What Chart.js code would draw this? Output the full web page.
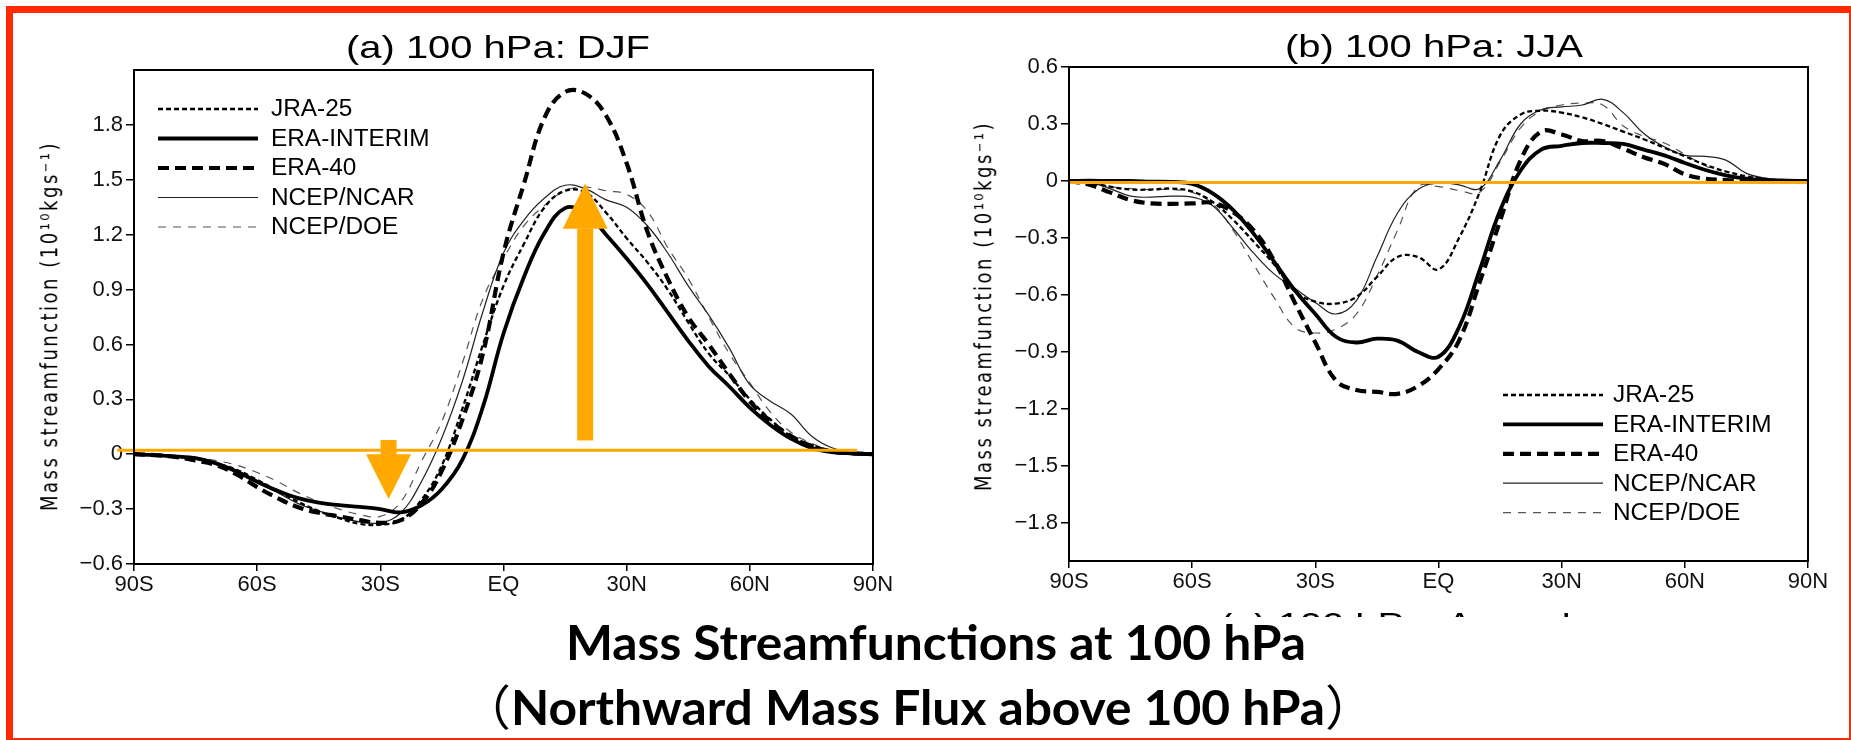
<!DOCTYPE html>
<html><head><meta charset="utf-8">
<script src="https://cdn.jsdelivr.net/npm/chart.js@4.4.1/dist/chart.umd.min.js"></script>
<style>
html,body{margin:0;padding:0;background:#fff;}
body{width:1851px;height:740px;position:relative;overflow:hidden;}
#frame{position:absolute;left:6px;top:6px;width:1850px;height:739px;border:7px solid #ff2a00;box-sizing:border-box;z-index:5;}
canvas{position:absolute;top:0;}
.txt{position:absolute;left:0;top:0;white-space:nowrap;line-height:1;color:#000;transform-origin:0 0;}
.ptitle{font-family:"Liberation Sans",Arial,sans-serif;font-size:32px;}
.ytitle{font-family:"DejaVu Sans",sans-serif;font-size:18px;}
.main{font-family:Lato,"Open Sans",sans-serif;font-weight:700;font-size:48px;}
.paren{font-family:"Noto Sans CJK JP",sans-serif;font-weight:400;}
#clipc{position:absolute;left:0;top:613px;width:1851px;height:4px;overflow:hidden;}
</style></head>
<body>
<canvas id="c1" width="925" height="620" style="left:0"></canvas>
<canvas id="c2" width="926" height="620" style="left:925px"></canvas>
<div id="t1" class="txt ptitle">(a) 100 hPa: DJF</div>
<div id="t2" class="txt ptitle">(b) 100 hPa: JJA</div>
<div id="clipc"><div id="t3" class="txt ptitle">(c) 100 hPa: Annual mean</div></div>
<div id="y1" class="txt ytitle">Mass streamfunction (10¹⁰kgs⁻¹)</div>
<div id="y2" class="txt ytitle">Mass streamfunction (10¹⁰kgs⁻¹)</div>
<div id="m1" class="txt main">Mass Streamfunctions at 100 hPa</div>
<div id="m2" class="txt main"><span class="paren">（</span>Northward Mass Flux above 100 hPa<span class="paren">）</span></div>
<div id="frame"></div>
<script>
// ---- data ----
const LAT = [-90,-85,-80,-75,-70,-65,-60,-55,-50,-45,-40,-35,-30,-25,-20,-15,-10,-5,0,5,10,15,20,25,30,35,40,45,50,55,60,65,70,75,80,85,90];
const X_TICKS = [-90,-60,-30,0,30,60,90];
const X_LABELS = ['90S','60S','30S','EQ','30N','60N','90N'];
const Y_TICKS_DJF = [-0.6,-0.3,0,0.3,0.6,0.9,1.2,1.5,1.8];
const Y_TICKS_JJA = [-1.8,-1.5,-1.2,-0.9,-0.6,-0.3,0,0.3,0.6];
const SERIES = ['JRA-25','ERA-INTERIM','ERA-40','NCEP/NCAR','NCEP/DOE'];

// DJF (panel a)
const JRA25_DJF   = [0,-0.003,-0.01,-0.025,-0.05,-0.085,-0.14,-0.20,-0.26,-0.31,-0.35,-0.38,-0.385,-0.36,-0.25,-0.06,0.25,0.60,0.92,1.15,1.35,1.44,1.43,1.32,1.18,1.05,0.90,0.72,0.55,0.43,0.30,0.19,0.10,0.05,0.02,0.005,0];
const ERAINT_DJF  = [0,-0.005,-0.012,-0.022,-0.05,-0.095,-0.15,-0.20,-0.24,-0.265,-0.278,-0.288,-0.30,-0.318,-0.28,-0.19,-0.03,0.26,0.66,0.97,1.21,1.345,1.32,1.20,1.07,0.93,0.775,0.62,0.48,0.37,0.255,0.16,0.085,0.035,0.012,0.004,0];
const ERA40_DJF   = [0,-0.005,-0.015,-0.035,-0.06,-0.11,-0.18,-0.24,-0.29,-0.32,-0.34,-0.36,-0.375,-0.36,-0.27,-0.09,0.19,0.55,1.10,1.48,1.84,1.98,1.97,1.85,1.59,1.22,0.96,0.75,0.60,0.44,0.29,0.18,0.10,0.045,0.015,0.005,0];
const NCAR_DJF    = [0,-0.003,-0.01,-0.025,-0.05,-0.09,-0.15,-0.21,-0.27,-0.31,-0.345,-0.37,-0.375,-0.32,-0.15,0.09,0.40,0.78,1.10,1.28,1.40,1.47,1.45,1.39,1.35,1.25,1.10,0.92,0.76,0.58,0.38,0.29,0.22,0.10,0.035,0.008,0];
const DOE_DJF     = [0,-0.003,-0.01,-0.02,-0.035,-0.06,-0.10,-0.15,-0.21,-0.26,-0.30,-0.33,-0.34,-0.26,-0.04,0.18,0.50,0.85,1.07,1.25,1.36,1.44,1.46,1.44,1.42,1.33,1.13,0.96,0.75,0.55,0.39,0.23,0.12,0.06,0.02,0.005,0];

// JJA (panel b)
const JRA25_JJA   = [0,-0.01,-0.03,-0.045,-0.045,-0.04,-0.055,-0.11,-0.205,-0.32,-0.44,-0.58,-0.635,-0.645,-0.61,-0.505,-0.40,-0.40,-0.465,-0.30,-0.06,0.24,0.35,0.37,0.36,0.335,0.30,0.26,0.22,0.175,0.13,0.085,0.05,0.025,0.01,0.003,0];
const ERAINT_JJA  = [0,0.002,0,0,-0.003,-0.005,-0.015,-0.065,-0.153,-0.278,-0.425,-0.575,-0.70,-0.82,-0.85,-0.83,-0.84,-0.90,-0.925,-0.77,-0.47,-0.155,0.055,0.165,0.185,0.20,0.20,0.195,0.165,0.135,0.095,0.058,0.03,0.012,0.005,0.002,0];
const ERA40_JJA   = [0,-0.02,-0.06,-0.10,-0.118,-0.12,-0.118,-0.115,-0.165,-0.26,-0.42,-0.64,-0.85,-1.05,-1.10,-1.11,-1.12,-1.08,-0.99,-0.84,-0.535,-0.21,0.11,0.26,0.245,0.21,0.21,0.17,0.125,0.09,0.035,0.012,0.005,0.002,0,0,0];
const NCAR_JJA    = [0.005,-0.005,-0.04,-0.08,-0.085,-0.08,-0.085,-0.13,-0.25,-0.38,-0.49,-0.565,-0.64,-0.70,-0.63,-0.40,-0.17,-0.045,-0.01,-0.02,-0.04,0.11,0.30,0.375,0.39,0.40,0.43,0.36,0.25,0.18,0.135,0.13,0.11,0.04,0.014,0.003,0];
const DOE_JJA     = [0,-0.01,-0.03,-0.04,-0.045,-0.045,-0.06,-0.12,-0.26,-0.44,-0.615,-0.77,-0.80,-0.78,-0.70,-0.50,-0.26,-0.03,-0.03,-0.05,-0.06,0.10,0.28,0.37,0.40,0.41,0.40,0.29,0.235,0.20,0.14,0.08,0.03,0.008,0,-0.005,0];

// ---- styles ----
const ORANGE = '#FFA800';
const STYLES = [
  {borderColor:'#000', borderWidth:2.3, borderDash:[5,3]},
  {borderColor:'#000', borderWidth:3.8, borderDash:[]},
  {borderColor:'#000', borderWidth:4.2, borderDash:[11,6]},
  {borderColor:'#222', borderWidth:1.2, borderDash:[]},
  {borderColor:'#555', borderWidth:1.2, borderDash:[8,7]}
];
const TICK_FONT = {family:'"Liberation Sans", Arial, sans-serif', size:22};
const LEG_FONT = '23px "Liberation Sans", Arial, sans-serif';

const decoPlugin = {
  id:'deco',
  afterDatasetsDraw(chart, args, o){
    const {ctx, chartArea:a, scales:{x,y}} = chart;
    ctx.save();
    (o.lines||[]).forEach(l=>{
      ctx.strokeStyle = l.color; ctx.lineWidth = l.width;
      const py = y.getPixelForValue(l.y);
      ctx.beginPath(); ctx.moveTo(x.getPixelForValue(l.x0), py); ctx.lineTo(x.getPixelForValue(l.x1), py); ctx.stroke();
    });
    (o.arrows||[]).forEach(r=>{
      const px = x.getPixelForValue(r.x), y0 = y.getPixelForValue(r.from), yb = y.getPixelForValue(r.base), yt = y.getPixelForValue(r.tip);
      ctx.fillStyle = r.color;
      ctx.fillRect(px - r.shaft/2, Math.min(y0,yb), r.shaft, Math.abs(yb-y0)+0.5);
      ctx.beginPath(); ctx.moveTo(px - r.head/2, yb); ctx.lineTo(px + r.head/2, yb); ctx.lineTo(px, yt); ctx.closePath(); ctx.fill();
    });
    ctx.strokeStyle = '#000'; ctx.lineWidth = 2;
    ctx.strokeRect(a.left, a.top, a.width, a.height);
    ctx.restore();
  }
};
const legendPlugin = {
  id:'lineLegend',
  afterDraw(chart, args, o){
    const {ctx, chartArea:a} = chart;
    ctx.save();
    chart.data.datasets.forEach((ds,i)=>{
      const yy = a.top + o.top + i*o.gap, x0 = a.left + o.left;
      ctx.strokeStyle = ds.borderColor; ctx.lineWidth = ds.borderWidth; ctx.setLineDash(ds.borderDash||[]);
      ctx.beginPath(); ctx.moveTo(x0, yy); ctx.lineTo(x0 + o.len, yy); ctx.stroke();
      ctx.setLineDash([]);
      ctx.fillStyle = '#000'; ctx.font = o.font; ctx.textBaseline = 'middle';
      ctx.save(); ctx.translate(x0 + o.len + o.textGap, yy); ctx.scale(o.scaleX, 1);
      ctx.fillText(ds.label, 0, 1); ctx.restore();
    });
    ctx.restore();
  }
};

function fmtY(v){ if (Math.abs(v) < 1e-9) return '0'; return (v < 0 ? '\u2212' : '') + Math.abs(v).toFixed(1); }

function build(id, values, yMin, yMax, yTicks, pad, yWidth, xHeight, deco, leg){
  return new Chart(document.getElementById(id), {
    type:'line',
    data:{datasets: SERIES.map((n,i)=>Object.assign({label:n, data: LAT.map((la,j)=>({x:la, y:values[i][j]})), pointRadius:0, tension:0.4, fill:false}, STYLES[i]))},
    options:{
      responsive:false, animation:false, devicePixelRatio:1,
      layout:{padding:pad},
      plugins:{legend:{display:false}, tooltip:{enabled:false}, deco:deco, lineLegend:leg},
      scales:{
        x:{type:'linear', min:-90, max:90,
           afterBuildTicks:s=>{s.ticks = X_TICKS.map(v=>({value:v}));},
           afterFit:s=>{s.height = xHeight;},
           ticks:{callback:v=>X_LABELS[X_TICKS.indexOf(v)], font:TICK_FONT, color:'#111', padding:1, maxRotation:0, autoSkip:false},
           grid:{drawOnChartArea:false, drawTicks:true, tickLength:7, color:'#000', lineWidth:1.5},
           border:{display:true, color:'#000', width:2}},
        y:{min:yMin, max:yMax,
           afterBuildTicks:s=>{s.ticks = yTicks.map(v=>({value:v}));},
           afterFit:s=>{s.width = yWidth;},
           ticks:{callback:fmtY, font:TICK_FONT, color:'#111', padding:3},
           grid:{drawOnChartArea:false, drawTicks:true, tickLength:8, color:'#000', lineWidth:1.5},
           border:{display:true, color:'#000', width:2}}
      }
    },
    plugins:[decoPlugin, legendPlugin]
  });
}

build('c1', [JRA25_DJF, ERAINT_DJF, ERA40_DJF, NCAR_DJF, DOE_DJF], -0.6, 2.1, Y_TICKS_DJF,
  {left:0, top:70, right:52, bottom:0}, 134, 56,
  {lines:[{x0:-94.1, x1:86.1, y:0.022, color:ORANGE, width:3}],
   arrows:[{x:19.9, from:0.078, base:1.233, tip:1.479, shaft:16, head:45, color:ORANGE},
           {x:-28, from:0.078, base:0, tip:-0.245, shaft:16, head:45, color:ORANGE}]},
  {left:24, top:39, gap:29.5, len:100, textGap:13, font:LEG_FONT, scaleX:1.06});

build('c2', [JRA25_JJA, ERAINT_JJA, ERA40_JJA, NCAR_JJA, DOE_JJA], -2.0, 0.6, Y_TICKS_JJA,
  {left:0, top:67, right:43, bottom:0}, 144, 59,
  {lines:[{x0:-90, x1:90, y:-0.008, color:ORANGE, width:3}], arrows:[]},
  {left:434, top:328, gap:29.4, len:100, textGap:10, font:LEG_FONT, scaleX:1.06});

// ---- text placement ----
function place(id, cx, baseline, targetW, ascentFrac){
  const el = document.getElementById(id);
  const w = el.getBoundingClientRect().width;
  const fs = parseFloat(getComputedStyle(el).fontSize);
  const s = targetW ? targetW / w : 1;
  const top = baseline - ascentFrac*fs;
  el.style.transform = `translate(${cx - w*s/2}px, ${top}px) scaleX(${s})`;
  return s;
}
const st = place('t1', 498, 58, 304, 0.85);
place('t2', 1434, 57, 298, 0.85);
(function(){
  const el = document.getElementById('t3');
  el.style.transform = `translate(1220px, ${635 - 613 - 0.85*32}px) scaleX(${st})`;
})();
const s = place('m1', 936, 661, 740, 0.89);
(function(){
  const el = document.getElementById('m2');
  const w = el.getBoundingClientRect().width;
  el.style.transform = `translate(${918 - w*s/2}px, ${723 - 0.89*48}px) scaleX(${s})`;
})();
function yTitle(id, cx, cy, len, sy){
  const el = document.getElementById(id);
  const w = el.getBoundingClientRect().width;
  const n = el.textContent.length;
  el.style.letterSpacing = ((len - w) / n) + 'px';
  el.style.transform = `translate(${cx}px, ${cy}px) rotate(-90deg) scale(1, ${sy}) translate(-50%, -50%)`;
}
yTitle('y1', 50, 326, 370, 1.25);
yTitle('y2', 984, 306, 370, 1.25);
</script>
</body></html>
